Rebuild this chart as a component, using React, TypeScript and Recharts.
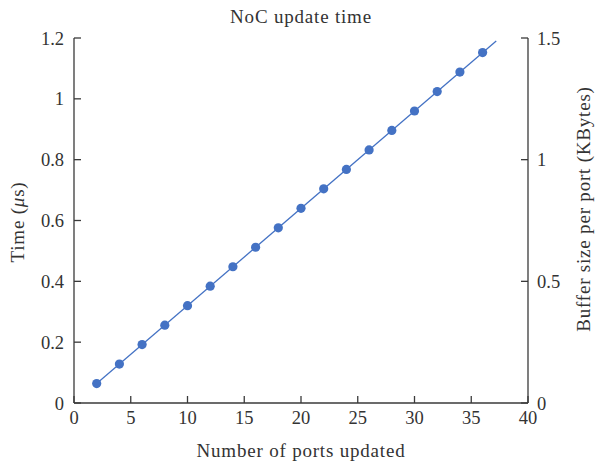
import React from "react";
import { ComposedChart, Line, Scatter, XAxis, YAxis } from "recharts";

const ports = [2, 4, 6, 8, 10, 12, 14, 16, 18, 20, 22, 24, 26, 28, 30, 32, 34, 36];
const times = [0.064, 0.128, 0.192, 0.256, 0.32, 0.384, 0.448, 0.512, 0.576, 0.64, 0.704, 0.768, 0.832, 0.896, 0.96, 1.024, 1.088, 1.152];
const fitX = [2, 37.2];
const fitY = [0.064, 1.19];
const xTicks = [0, 5, 10, 15, 20, 25, 30, 35, 40];
const leftTicks = [0, 0.2, 0.4, 0.6, 0.8, 1, 1.2];
const rightTicks = [0, 0.5, 1, 1.5];

const pointData = ports.map((x, i) => ({ x, y: times[i] }));
const fitData = fitX.map((x, i) => ({ x, y: fitY[i] }));

const FONT = "'Liberation Serif', 'Times New Roman', serif";
const BLUE = "#4472C4";
const AX = "#3a3a3a";
const tickStyle = { fontFamily: FONT, fontSize: 18.5, fill: "#333" };
const labelStyle = { fontFamily: FONT, fontSize: 19, fill: "#333", letterSpacing: 0.8 };

export default function App() {
  return (
    <div style={{ position: "absolute", left: 0, top: 0, width: 595, height: 464, background: "#fff" }}>
      <ComposedChart width={595} height={464} margin={{ top: 38, right: 0, bottom: 0, left: 0 }}>
        <XAxis
          type="number"
          dataKey="x"
          domain={[0, 40]}
          ticks={xTicks}
          allowDataOverflow
          height={61}
          stroke={AX}
          tickSize={-7}
          tickMargin={15}
          tick={tickStyle}
          tickLine={{ stroke: AX, strokeWidth: 1.3 }}
          axisLine={{ stroke: AX, strokeWidth: 1.3 }}
          label={{
            content: () => (
              <text x={301} y={457} textAnchor="middle" style={labelStyle}>
                Number of ports updated
              </text>
            ),
          }}
        />
        <YAxis
          yAxisId="left"
          type="number"
          domain={[0, 1.2]}
          ticks={leftTicks}
          allowDataOverflow
          width={74}
          stroke={AX}
          tickSize={-7}
          tickMargin={17}
          tick={tickStyle}
          tickLine={{ stroke: AX, strokeWidth: 1.3 }}
          axisLine={{ stroke: AX, strokeWidth: 1.3 }}
          label={{
            content: () => (
              <text x={24} y={222} transform="rotate(-90 24 222)" textAnchor="middle" style={labelStyle}>
                Time (<tspan fontStyle="italic">μ</tspan>s)
              </text>
            ),
          }}
        />
        <YAxis
          yAxisId="right"
          orientation="right"
          type="number"
          domain={[0, 1.5]}
          ticks={rightTicks}
          allowDataOverflow
          width={67}
          stroke={AX}
          tickSize={-7}
          tickMargin={16}
          tick={tickStyle}
          tickLine={{ stroke: AX, strokeWidth: 1.3 }}
          axisLine={{ stroke: AX, strokeWidth: 1.3 }}
          label={{
            content: () => (
              <text x={590} y={209} transform="rotate(-90 590 209)" textAnchor="middle" style={labelStyle}>
                Buffer size per port (KBytes)
              </text>
            ),
          }}
        />
        <Line
          yAxisId="left"
          data={fitData}
          dataKey="y"
          type="linear"
          stroke={BLUE}
          strokeWidth={1.3}
          dot={false}
          activeDot={false}
          isAnimationActive={false}
        />
        <Scatter
          yAxisId="left"
          data={pointData}
          dataKey="y"
          fill={BLUE}
          shape={(p: any) => <circle cx={p.cx} cy={p.cy} r={4.6} fill={BLUE} />}
          isAnimationActive={false}
        />
      </ComposedChart>
      <div
        style={{
          position: "absolute",
          left: 0,
          top: 5,
          width: 602,
          textAlign: "center",
          fontFamily: FONT,
          fontSize: 19,
          letterSpacing: 0.8,
          color: "#333",
          lineHeight: "24px",
        }}
      >
        NoC update time
      </div>
    </div>
  );
}
